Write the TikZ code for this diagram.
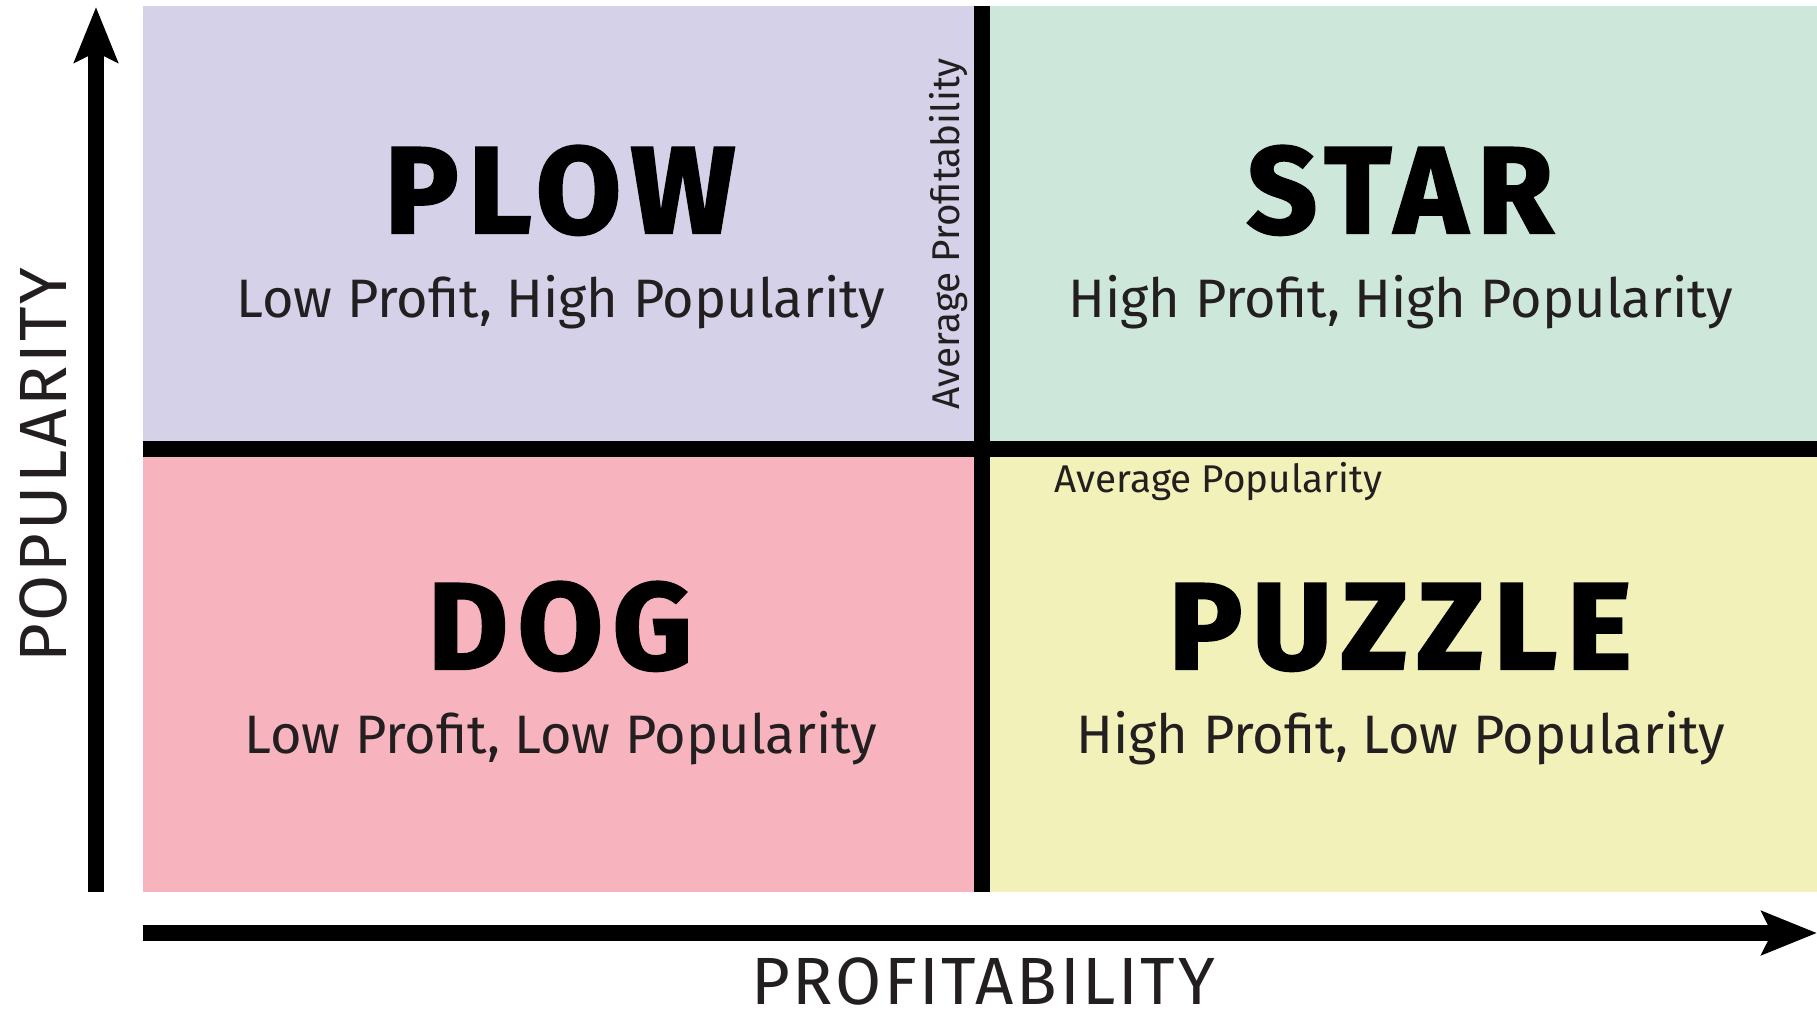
\documentclass[tikz,border=0pt]{standalone}
\usepackage{fontspec}
\setmainfont{Fira Sans}
\newfontfamily\heavyfont{Fira Sans}[LetterSpace=8,BoldFeatures={FakeBold=2}]
\newfontfamily\spacedfont{Fira Sans}[LetterSpace=4]
\usetikzlibrary{arrows.meta}
\definecolor{plowfill}{RGB}{213,209,232}
\definecolor{starfill}{RGB}{205,231,219}
\definecolor{dogfill}{RGB}{247,180,190}
\definecolor{puzzlefill}{RGB}{241,241,185}
\definecolor{ink}{RGB}{35,31,32}
\begin{document}
\begin{tikzpicture}[x=0.01cm,y=-0.01cm,
  quadtitle/.style={font=\heavyfont\bfseries\fontsize{35}{35}\selectfont,anchor=base,inner sep=0},
  quadsub/.style={font=\fontsize{15.4}{16}\selectfont,text=ink,anchor=base,inner sep=0},
  avgline/.style={font=\fontsize{11}{11}\selectfont,text=ink,anchor=base west,inner sep=0},
  axislabel/.style={font=\spacedfont\fontsize{19}{19}\selectfont,text=ink,anchor=base,inner sep=0},
  axis/.style={line width=1.6mm,-{Stealth[length=5.5mm 0,width=4.3mm 0,inset=1mm 0]}},
  divider/.style={line width=1.6mm}]
\useasboundingbox (0,0) rectangle (1817,1011);
\fill[plowfill] (143,6) rectangle (974,441);
\fill[starfill] (990,6) rectangle (1817,441);
\fill[dogfill] (143,457) rectangle (974,892);
\fill[puzzlefill] (990,457) rectangle (1817,892);
\coordinate (vtop) at (982,6);
\coordinate (vbot) at (982,892);
\coordinate (hleft) at (143,449);
\coordinate (hright) at (1817,449);
\draw[divider] (vtop) -- (vbot);
\draw[divider] (hleft) -- (hright);
\foreach \qname/\cx/\ty/\qtitle/\tagline in {plow/561/233/PLOW/{Low Profit, High Popularity},
    star/1401/233/STAR/{High Profit, High Popularity},
    dog/561/669/DOG/{Low Profit, Low Popularity},
    puzzle/1401/669/PUZZLE/{High Profit, Low Popularity}}
{
  \node[quadtitle] (\qname) at (\cx-1,\ty) {\qtitle};
  \node[quadsub] (\qname sub) at (\cx,\ty+84) {\tagline};
}
\node[avgline,rotate=90] (avgprofit) at (959,410) {Average Profitability};
\node[avgline] (avgpop) at (1054,492) {Average Popularity};
\coordinate (ybot) at (96,892);
\coordinate (ytop) at (96,7);
\coordinate (xleft) at (143,933);
\coordinate (xright) at (1817,933);
\draw[axis] (ybot) -- (ytop);
\draw[axis] (xleft) -- (xright);
\node[axislabel,rotate=90] (ylabel) at (67,465) {POPULARITY};
\node[axislabel] (xlabel) at (983,1004) {PROFITABILITY};
\end{tikzpicture}
\end{document}
